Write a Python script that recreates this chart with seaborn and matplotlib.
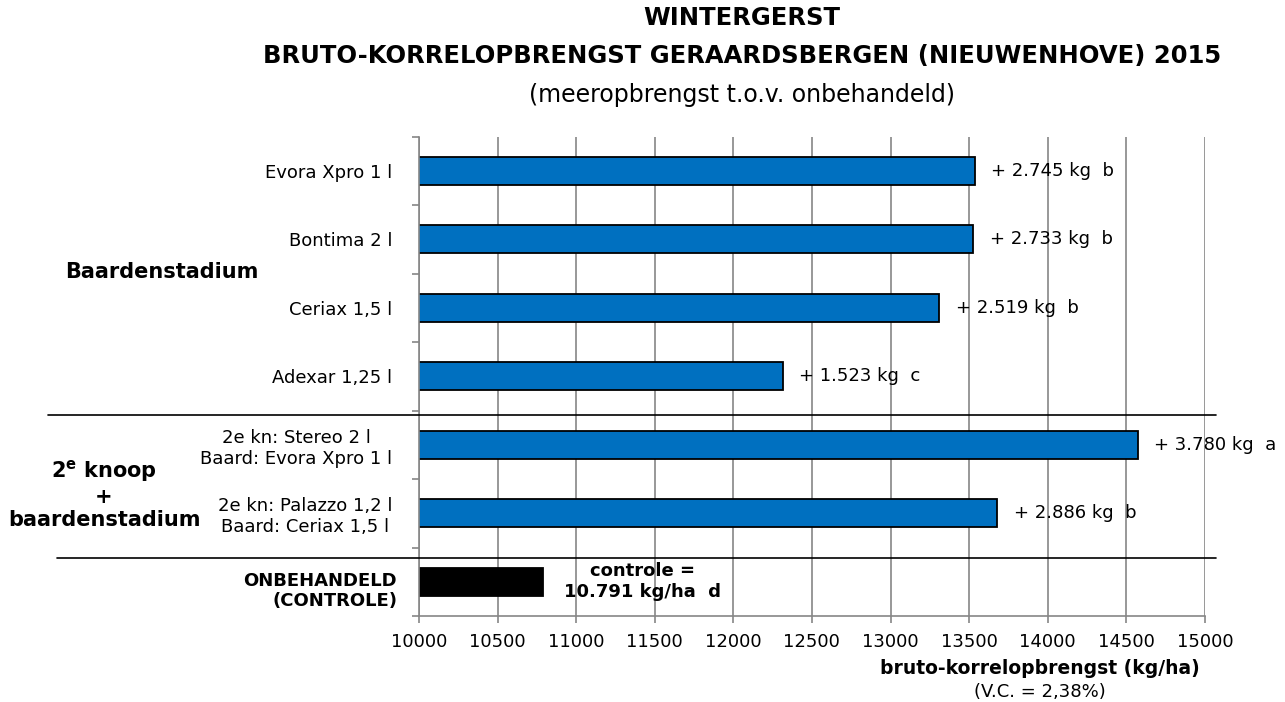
import matplotlib.pyplot as plt
import seaborn as sns
import numpy as np
from matplotlib.lines import Line2D
from matplotlib.transforms import blended_transform_factory

# data
behandelingen = ['Evora Xpro 1 l', 'Bontima 2 l', 'Ceriax 1,5 l', 'Adexar 1,25 l',
                 '2e kn: Stereo 2 l\nBaard: Evora Xpro 1 l',
                 '2e kn: Palazzo 1,2 l\nBaard: Ceriax 1,5 l', '']
opbrengst = [13536, 13524, 13310, 12314, 14571, 13677, 10791]
labels = ['+ 2.745 kg  b', '+ 2.733 kg  b', '+ 2.519 kg  b', '+ 1.523 kg  c',
          '+ 3.780 kg  a', '+ 2.886 kg  b']
kleuren = ['#0070C0'] * 6 + ['#000000']

sns.set_style('white')
plt.rcParams['font.family'] = ['DejaVu Sans']
plt.rcParams['text.color'] = 'black'

fig = plt.figure(figsize=(12.85, 7.02), dpi=100)
ax = fig.add_axes([0.326, 0.1225, 0.6117, 0.683])

pos = list(range(len(opbrengst)))
sns.barplot(x=opbrengst, y=pos, orient='h', hue=pos, palette=kleuren, legend=False,
            width=0.41, edgecolor='black', linewidth=1.3, saturation=1, ax=ax)

ax.set_xlim(10000, 15000)
ax.set_ylim(6.5, -0.5)
ax.set_xticks(np.arange(10000, 15001, 500))
ax.tick_params(axis='x', bottom=True, labelsize=13, length=5, width=1.2,
               color='#868686', labelcolor='black', pad=7)
ax.set_yticks(pos)
ax.set_yticklabels(behandelingen, fontsize=13)
for t in ax.get_yticklabels():
    t.set_multialignment('center')
ax.tick_params(axis='y', which='major', length=0, pad=19, labelcolor='black')
ax.set_yticks(np.arange(-0.5, 7, 1), minor=True)
ax.tick_params(axis='y', which='minor', left=True, length=5, width=1.2, color='#868686')
ax.grid(axis='x', color='#868686', linewidth=1.2)
ax.set_axisbelow(True)
for s in ['top', 'right']:
    ax.spines[s].set_visible(False)
for s in ['left', 'bottom']:
    ax.spines[s].set_color('#868686')
    ax.spines[s].set_linewidth(1.2)
ax.set_xlabel('')
ax.set_ylabel('')

for i, lab in enumerate(labels):
    ax.annotate(lab, xy=(opbrengst[i], i), xytext=(12, 0), textcoords='offset points',
                va='center', ha='left', fontsize=13)
ax.text(11425, 6, 'controle =\n10.791 kg/ha  d', fontsize=13, fontweight='bold',
        ha='center', va='center', multialignment='center')

# scheidingslijnen tussen de groepen
tr = blended_transform_factory(fig.transFigure, ax.transData)
fig.add_artist(Line2D([0.037, 0.946], [3.57, 3.57], transform=tr, color='black', linewidth=1.2))
fig.add_artist(Line2D([0.044, 0.946], [5.65, 5.65], transform=tr, color='black', linewidth=1.2))

# groepslabels
fig.text(162 / 1285, 1 - 272 / 702, 'Baardenstadium', fontsize=15, fontweight='bold',
         ha='center', va='center')
fig.text(104 / 1285, 1 - 494 / 702, '$\\mathbf{2^e}$ knoop\n+\nbaardenstadium', fontsize=15,
         fontweight='bold', ha='center', va='center', multialignment='center')
fig.text(397 / 1285, 1 - 591 / 702, 'ONBEHANDELD\n(CONTROLE)', fontsize=13, fontweight='bold',
         ha='right', va='center', multialignment='right')

# titels
fig.text(742 / 1285, 1 - 25 / 702, 'WINTERGERST', fontsize=17.5, fontweight='bold',
         ha='center', va='baseline')
fig.text(742 / 1285, 1 - 63 / 702, 'BRUTO-KORRELOPBRENGST GERAARDSBERGEN (NIEUWENHOVE) 2015',
         fontsize=17.5, fontweight='bold', ha='center', va='baseline')
fig.text(742 / 1285, 1 - 102 / 702, '(meeropbrengst t.o.v. onbehandeld)', fontsize=17,
         ha='center', va='baseline')

fig.text(1200 / 1285, 1 - 668 / 702, 'bruto-korrelopbrengst (kg/ha)', fontsize=13.5,
         fontweight='bold', ha='right', va='center')
fig.text(1040 / 1285, 1 - 692 / 702, '(V.C. = 2,38%)', fontsize=13, ha='center', va='center')

fig.savefig('out.png', dpi=100)
